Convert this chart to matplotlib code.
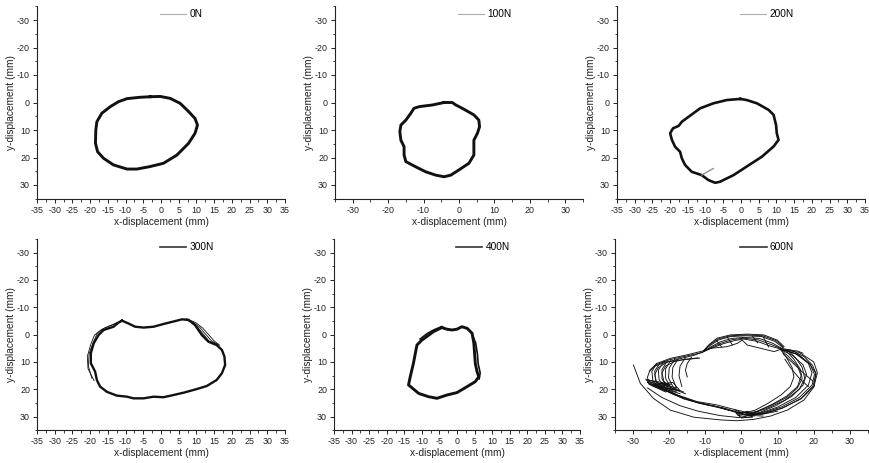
import matplotlib
matplotlib.use("Agg")
import matplotlib.pyplot as plt
from matplotlib.lines import Line2D
from matplotlib.ticker import MultipleLocator
from matplotlib import font_manager

plt.rcParams['font.family'] = ['Liberation Sans', 'DejaVu Sans']
plt.rcParams['font.size'] = 7
plt.rcParams['axes.unicode_minus'] = False

# tick numbers are set in a narrow face when one is available
names = {f.name for f in font_manager.fontManager.ttflist}
if 'Liberation Sans Narrow' in names:
    tick_family, tick_size = 'Liberation Sans Narrow', 7.2
else:
    tick_family, tick_size = 'Liberation Sans', 6.4

# orbit traces (x, y displacement in mm) for each load
x_0N = [-3.0, -5.9, -9.6, -12.0, -14.3, -16.7, -18.1, -18.4, -18.5, -17.9, -16.2, -13.4, -9.6,
        -6.8, -3.1, 0.7, 4.5, 7.8, 9.6, 10.3, 9.6, 7.8, 5.4, 2.6, -0.2, -3.0]
y_0N = [-2.1, -1.9, -1.4, -0.3, 1.5, 3.9, 7.0, 10.0, 14.8, 17.9, 20.3, 22.7, 24.2,
        24.2, 23.3, 22.1, 19.1, 14.8, 11.2, 8.2, 5.8, 3.3, 0.3, -1.5, -2.2, -2.1]

x_100N = [-4.2, -1.9, -0.9, 0.9, 4.2, 5.6, 5.8, 5.2, 4.2, 4.2, 4.2, 2.8, 0.0, -2.3, -4.2,
          -6.6, -9.4, -12.2, -15.0, -15.5, -15.5, -16.4, -16.7, -16.4, -15.0, -13.6, -12.7,
          -11.2, -7.5, -4.2]
y_100N = [0.0, 0.0, 0.9, 2.1, 4.5, 6.4, 8.8, 11.2, 13.7, 16.7, 19.1, 22.1, 24.5, 26.4, 27.0,
          26.4, 25.2, 23.4, 21.5, 19.1, 16.1, 13.7, 10.6, 8.2, 6.4, 3.9, 2.1,
          1.5, 0.9, 0.0]

x_200N = [-0.2, 1.6, 4.5, 7.8, 9.2, 9.9, 10.1, 10.6, 9.2, 5.9, 1.6, -2.1, -5.9, -7.3, -9.2,
          -11.1, -13.9, -15.8, -16.7, -17.2, -18.6, -19.5, -20.0, -19.2, -17.6, -16.7, -14.8,
          -11.5, -7.8, -4.0, -0.2]
y_200N = [-1.3, -0.9, 0.3, 2.7, 4.5, 8.2, 11.2, 13.6, 16.0, 19.7, 23.3, 26.4, 28.8, 29.2, 28.2,
          26.4, 25.2, 22.7, 20.3, 17.9, 16.1, 13.6, 11.2, 9.4, 8.5, 7.0, 5.2,
          2.1, 0.3, -0.9, -1.3]
x_200N_stub = [-11.1, -9.5, -7.8]
y_200N_stub = [26.4, 25.2, 24.0]

x_300N = [-11.0, -12.0, -13.4, -16.2, -17.6, -19.0, -19.8, -19.8, -18.6, -18.1, -17.2, -15.3,
          -12.5, -9.6, -7.8, -4.9, -2.1, 0.7, 3.5, 6.8, 10.1, 12.9, 15.7, 17.2, 18.1, 17.9,
          17.2, 15.7, 13.4, 11.5, 9.6, 7.8, 5.9, 3.5, 0.7, -2.1, -4.9, -7.3, -9.2, -11.0]
y_300N = [-5.1, -4.4, -2.9, -1.7, 0.1, 3.2, 6.8, 10.5, 13.5, 16.6, 19.0, 20.9,
          22.3, 22.7, 23.3, 23.3, 22.7, 22.9, 22.1, 21.1, 19.9, 18.8, 16.6, 14.1, 11.1, 8.0,
          5.6, 3.8, 2.6, 0.1, -3.5, -5.4, -5.6, -4.8, -3.9, -2.9, -2.6, -2.9, -4.1, -5.1]
# extra cycles that spread apart on the upper right / left
x_300N_fan = [[6.2, 8.3, 10.3, 11.8, 13.6, 15.8],
              [6.6, 9.0, 11.0, 12.5, 14.2, 16.2],
              [7.2, 9.8, 11.8, 13.3, 15.0, 16.6],
              [-11.5, -13.8, -16.0, -18.0, -19.2, -20.3, -20.5, -19.5],
              [-11.2, -14.2, -16.8, -18.8, -19.8, -20.8, -20.6, -18.9]]
y_300N_fan = [[-5.6, -4.8, -2.8, -0.4, 2.4, 3.6],
              [-5.7, -4.6, -2.6, -0.3, 2.2, 3.7],
              [-5.8, -4.4, -2.4, -0.2, 2.3, 3.9],
              [-5.0, -3.6, -2.4, -0.5, 3.0, 7.0, 11.5, 16.0],
              [-4.9, -3.3, -1.9, 0.2, 3.5, 8.0, 12.5, 16.8]]

x_400N = [-4.3, -2.9, -1.4, 0.0, 1.4, 2.9, 4.3, 4.8, 5.0, 5.2, 5.7, 6.2, 5.2, 2.9, 0.0,
          -2.9, -5.7, -8.1, -10.9, -13.8, -13.3, -12.4, -11.4, -10.0, -8.6, -6.7, -4.3]
y_400N = [-2.6, -2.0, -1.7, -2.0, -2.9, -2.3, -0.5, 3.2, 6.8, 10.5, 13.5, 15.4, 17.2, 19.0, 21.2,
          22.1, 23.3, 22.7, 21.5, 18.4, 15.4, 10.5, 3.8, 2.0, 0.7, -1.1, -2.6]
x_400N_fan = [[4.0, 5.3, 5.8, 6.0, 6.6, 6.3],
              [-10.5, -8.5, -6.5, -4.6]]
y_400N_fan = [[-1.0, 3.0, 7.0, 10.5, 14.0, 16.2],
              [1.6, -0.4, -1.8, -2.8]]

# 600N: many drifting cycles, traced as separate strands
x_600N = [
    # outer sweep and second lower arc
    [-29.9, -28.0, -24.4, -19.7, -13.2, -5.8, -1.2, 3.4, 8.0, 12.7, 17.3, 20.1, 20.6, 19.6, 17.3, 13.6, 10.8],
    [-26.0, -22.0, -17.0, -12.0, -6.0, -1.0, 3.0],
    # right-hand loops
    [10.8, 15.0, 18.5, 19.5, 18.5, 15.0, 10.0, 5.0, 1.5],
    [10.8, 14.0, 17.0, 18.0, 17.0, 14.0, 9.5, 5.0, 1.5],
    [10.8, 13.0, 15.5, 16.5, 15.5, 12.5, 8.5, 4.5, 1.5],
    [10.8, 12.5, 14.0, 14.5, 13.5, 11.0, 7.5, 4.0, 1.5],
    [10.8, 16.0, 20.0, 21.0, 20.0, 16.5, 11.0, 5.5, 1.5],
    [12.0, 16.0, 19.0, 20.2, 19.5, 16.0, 11.0, 6.0, 2.0],
    [13.0, 15.0, 16.8, 17.5, 16.0, 12.0, 7.0, 3.0],
    [11.5, 15.5, 18.8, 20.6, 19.8, 16.5, 11.5, 6.5, 2.0],
    [12.5, 14.5, 16.2, 16.8, 15.5, 12.5, 8.0, 3.5],
    [11.5, 13.5, 15.5, 17.5, 19.8],
    [12.0, 13.5, 16.0, 18.5],
    [10.8, 13.0, 15.5, 17.0],
    # top lens
    [-10.5, -9.1, -6.8, -3.1, 1.6, 6.2, 9.9, 11.8],
    [-10.4, -9.0, -6.5, -3.0, 1.4, 5.9, 9.6, 11.6],
    [-10.5, -8.8, -6.3, -3.0, 1.2, 5.6, 9.3, 11.5],
    [-10.3, -8.4, -5.8, -2.8, 0.8, 5.0, 8.7, 11.2],
    [-10.3, -8.2, -5.4, -2.4, 0.6, 4.6, 8.4, 11.1],
    [-10.2, -8.0, -5.0, -2.0, 0.5, 4.2, 8.0, 11.0],
    [-10.5, -8.6, -4.0, -1.2, 0.2, 1.6, 5.3, 9.0, 10.8],
    [-7.0, -5.5], [-4.0, -2.5], [3.0, 4.5], [6.0, 7.5],
    # left loop and its ribs
    [-17.9, -22.0, -25.7, -26.0, -25.3, -23.4, -19.7, -15.1, -10.5],
    [-18.0, -21.0, -23.5, -24.0, -23.0, -20.5, -17.0, -13.0, -10.5],
    [-18.0, -20.0, -21.5, -22.0, -21.0, -18.5, -15.5, -12.0],
    [-25.5, -23.5, -20.0, -15.5, -11.0, -9.0],
    [-24.0, -21.0, -17.0, -14.0, -11.6],
    [-23.5, -24.8, -24.5, -22.5],
    [-22.5, -24.0, -23.8, -22.0],
    [-21.5, -23.0, -22.8, -21.0],
    [-20.5, -22.0, -22.0, -20.3],
    [-19.5, -21.0, -21.0, -19.5],
    [-18.5, -20.0, -20.2, -18.8],
    [-17.5, -19.0, -19.2, -18.0],
    [-15.5, -17.0, -17.3, -16.5],
    [-13.8, -15.0, -15.5, -15.0],
    # dense cluster on the left
    [-26.3, -24.0, -21.0, -18.0, -16.0],
    [-26.0, -23.5, -20.5, -17.5, -15.5],
    [-25.5, -23.0, -20.0, -17.0],
    [-26.5, -25.0, -22.0, -19.5],
    [-26.0, -22.0, -18.0, -21.0, -25.0, -19.0, -17.0, -23.0, -20.0],
    # lower diagonal band
    [-26.0, -22.0, -17.9, -12.3, -6.8, -3.1, 0.6, 1.6, 5.0, 10.0],
    [-26.0, -21.0, -17.0, -12.0, -7.0, -3.0, 0.0, 2.0, 6.0],
    [-25.0, -20.0, -16.0, -11.0, -6.0, -2.5, 0.5, 3.0],
    [-24.0, -19.0, -14.0, -9.0, -5.0, -1.5, 1.0, 3.5],
    [-22.0, -17.0, -12.0, -7.5, -4.0, -0.5, 2.0],
    [-2.0, 0.0, 2.5, 1.0, -1.0, 1.5, 3.0, 0.0, -1.5, 2.0],
]
y_600N = [
    [11.1, 17.8, 23.3, 27.6, 30.2, 31.2, 31.5, 31.0, 29.8, 27.6, 23.9, 19.0, 14.1, 11.1, 8.0, 5.6, 5.0],
    [19.5, 23.0, 26.0, 28.0, 29.6, 30.3, 30.2],
    [5.4, 7.0, 10.5, 14.0, 18.5, 23.0, 26.5, 28.8, 29.3],
    [5.4, 7.5, 11.0, 14.5, 18.5, 22.5, 26.0, 28.5, 29.0],
    [5.4, 8.0, 11.5, 15.0, 19.0, 22.5, 25.5, 28.0, 28.8],
    [5.4, 8.5, 12.0, 15.5, 19.0, 22.0, 25.0, 27.5, 28.5],
    [5.4, 6.5, 10.0, 14.0, 19.0, 23.5, 27.0, 29.0, 29.5],
    [5.6, 7.5, 11.0, 14.5, 18.5, 23.0, 26.5, 28.6, 29.2],
    [6.0, 8.5, 12.0, 16.0, 20.0, 24.0, 27.0, 28.8],
    [5.5, 7.2, 10.5, 14.2, 18.8, 23.3, 26.8, 28.9, 29.4],
    [6.2, 9.0, 12.5, 16.0, 19.5, 23.0, 26.0, 28.5],
    [7.0, 9.5, 12.0, 14.5, 17.0],
    [9.0, 12.0, 16.0, 19.0],
    [5.4, 5.6, 6.0, 6.8],
    [5.9, 3.8, 1.3, 0.1, -0.2, 0.1, 2.0, 4.4],
    [5.9, 3.9, 1.6, 0.4, 0.1, 0.4, 2.2, 4.6],
    [5.9, 4.1, 1.9, 0.7, 0.4, 0.7, 2.5, 4.8],
    [6.0, 4.4, 2.6, 1.4, 1.0, 1.4, 3.2, 5.1],
    [6.0, 4.6, 3.0, 1.8, 1.3, 1.9, 3.7, 5.2],
    [6.0, 4.8, 3.3, 2.2, 1.6, 2.4, 4.2, 5.3],
    [6.0, 5.0, 4.4, 3.2, 2.0, 3.8, 5.0, 6.2, 5.4],
    [2.0, 4.5], [0.8, 3.8], [0.5, 3.0], [0.8, 4.5],
    [22.0, 20.0, 18.0, 15.5, 12.9, 10.5, 8.7, 7.4, 5.9],
    [21.0, 19.5, 17.5, 14.5, 12.0, 10.0, 8.8, 7.5, 6.2],
    [20.5, 19.0, 17.0, 14.0, 11.5, 9.8, 9.0, 8.5],
    [13.5, 11.0, 9.2, 7.9, 6.6, 5.2],
    [11.5, 10.1, 9.3, 8.9, 8.6],
    [10.5, 13.5, 17.0, 19.5],
    [10.2, 13.3, 16.8, 19.5],
    [9.8, 13.0, 16.5, 19.5],
    [9.5, 12.8, 16.2, 19.5],
    [9.2, 12.5, 16.0, 19.5],
    [9.0, 12.2, 15.8, 19.5],
    [8.8, 12.0, 15.5, 19.5],
    [8.4, 11.5, 15.0, 19.0],
    [8.2, 10.5, 13.0, 15.5],
    [16.8, 17.8, 18.8, 20.0, 21.0],
    [17.4, 18.6, 19.5, 20.6, 21.6],
    [18.2, 19.2, 20.4, 21.6],
    [16.3, 16.8, 17.5, 18.2],
    [16.5, 18.0, 19.5, 21.0, 18.5, 17.5, 20.5, 19.0, 18.2],
    [17.0, 19.0, 22.0, 24.5, 25.7, 27.0, 28.2, 28.8, 29.3, 28.0],
    [17.5, 20.5, 22.5, 25.0, 26.3, 27.8, 29.0, 29.5, 29.8],
    [18.5, 21.0, 23.5, 25.3, 26.8, 28.0, 29.3, 28.5],
    [18.5, 21.8, 24.2, 25.8, 26.8, 28.2, 29.5, 29.8],
    [19.6, 22.8, 24.8, 26.1, 27.4, 28.6, 28.2],
    [27.5, 28.5, 29.0, 30.0, 29.5, 28.0, 30.0, 30.5, 28.8, 28.4],
]

labels = ['0N', '100N', '200N', '300N', '400N', '600N']

fig = plt.figure(figsize=(8.70, 4.63), dpi=100)
W, H = 870.0, 463.0

# axes boxes in pixels: left, right, top, bottom
boxes = [(37, 285, 6.25, 198.75), (335, 583, 6.25, 198.75), (617, 865, 6.25, 198.75),
         (37, 285, 239, 430.3), (334, 580, 239, 430.3), (615, 868, 239, 430.3)]
major_x = [5, 10, 5, 5, 5, 10]

axes = []
for i, (l, r, t, b) in enumerate(boxes):
    ax = fig.add_axes([l / W, 1 - b / H, (r - l) / W, (b - t) / H])
    ax.set_xlim(-35, 35)
    ax.set_ylim(35, -35)
    ax.spines['top'].set_visible(False)
    ax.spines['right'].set_visible(False)
    for s in ['left', 'bottom']:
        ax.spines[s].set_linewidth(0.8)
        ax.spines[s].set_color('#222222')
    if major_x[i] == 5:
        ax.set_xticks(range(-35, 36, 5))
        ax.xaxis.set_minor_locator(MultipleLocator(2.5))
    else:
        ax.set_xticks(range(-30, 31, 10))
        ax.xaxis.set_minor_locator(MultipleLocator(5))
    ax.set_yticks(range(-30, 31, 10))
    ax.yaxis.set_minor_locator(MultipleLocator(5))
    ax.tick_params(which='major', direction='out', length=3, width=0.7, labelsize=tick_size,
                   pad=2, colors='#222222', labelfontfamily=tick_family)
    ax.tick_params(which='minor', direction='out', length=1.8, width=0.6, colors='#222222')
    ax.set_xlabel('x-displacement (mm)', fontsize=7.3, color='#222222')
    ax.set_ylabel('y-displacement (mm)', fontsize=7.3, color='#222222')
    w_px, h_px = r - l, b - t
    ax.xaxis.set_label_coords(0.5, -18.0 / h_px)
    ax.yaxis.set_label_coords(-20.5 / w_px, 0.5)
    axes.append(ax)

ink = '#111111'
axes[0].plot(x_0N, y_0N, color=ink, lw=2.1, solid_joinstyle='round')
axes[1].plot(x_100N, y_100N, color=ink, lw=2.1, solid_joinstyle='round')
axes[2].plot(x_200N, y_200N, color=ink, lw=1.9, solid_joinstyle='round')
axes[2].plot(x_200N_stub, y_200N_stub, color='#888888', lw=0.9)
axes[3].plot(x_300N, y_300N, color=ink, lw=1.7, solid_joinstyle='round')
for xs, ys in zip(x_300N_fan, y_300N_fan):
    axes[3].plot(xs, ys, color=ink, lw=0.6)
axes[4].plot(x_400N, y_400N, color=ink, lw=2.1, solid_joinstyle='round')
for xs, ys in zip(x_400N_fan, y_400N_fan):
    axes[4].plot(xs, ys, color=ink, lw=1.2)
for xs, ys in zip(x_600N, y_600N):
    axes[5].plot(xs, ys, color=ink, lw=0.65)

# legend entries: faint thin line on the top row, darker on the bottom row
for i, ax in enumerate(axes):
    if i < 3:
        h = Line2D([], [], color='#aaaaaa', lw=0.8)
    else:
        h = Line2D([], [], color='#333333', lw=1.2)
    ax.legend([h], [labels[i]], loc='upper left', bbox_to_anchor=(0.48, 1.005), frameon=False,
              fontsize=7.3, handlelength=2.6, handletextpad=0.3, borderaxespad=0)

fig.savefig('out.png', dpi=100)
